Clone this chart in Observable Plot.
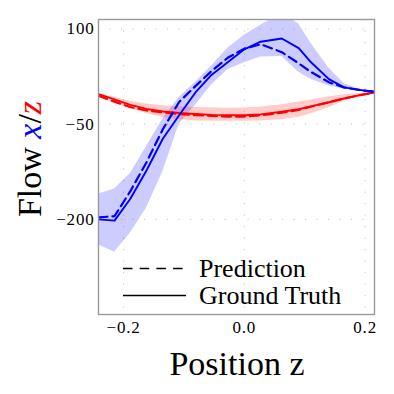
<!DOCTYPE html>
<html><head><meta charset="utf-8">
<script src="https://cdn.jsdelivr.net/npm/d3@7"></script>
<script src="https://cdn.jsdelivr.net/npm/@observablehq/plot@0.6"></script>
<style>body{margin:0;background:#fff}</style>
</head><body><div id="chart"></div>
<script>
// Position z (x axis)
const zPos = [-0.2415, -0.215, -0.189, -0.162, -0.135, -0.108, -0.081, -0.054, -0.027, 0.0, 0.027, 0.062, 0.09, 0.11, 0.14, 0.165, 0.19, 0.2155];
// Flow x (blue)
const blueTruth = [-200, -202, -168, -123, -73, -36, 0, 28, 48, 68, 80, 85, 70, 48, 21, 8, 4, 1];
const bluePred  = [-197, -195, -156, -110, -58, -15, 10, 34, 55, 69, 76, 63.5, 46, 32.5, 16, 8, 4, 1];
const blueLow   = [-240, -252, -222, -182, -125, -50, -20, 12, 36, 47, 56, 56.5, 32, 21, 10, 5, 3, 1];
const blueHigh  = [-160, -152, -128, -85, -42, -8, 16, 42, 70, 90, 106, 125, 108, 78, 38, 14, 5, 1];
// Flow z (red)
const redTruth = [-2.6, -11, -19.5, -26, -30, -32.3, -34, -35.3, -35.8, -36, -34.5, -30.5, -26.5, -22, -15.5, -9.5, -4.5, 0];
const redPred  = [-5.3, -14.5, -23, -28.5, -31.5, -34, -35.8, -37, -38, -38, -36, -32, -27.5, -22.5, -15.5, -9.5, -4.5, 0];
const redLow   = [-4, -15, -26, -33, -39.5, -43, -45, -45.5, -45.5, -45.5, -45, -43, -39, -34, -24, -14, -6, 0];
const redHigh  = [-2, -7.5, -14, -18, -21, -22.5, -23.8, -24.3, -24.7, -24.5, -23, -19.5, -15, -12, -7, -3.5, -1.5, 0];

const xTicks = [-0.2, 0.0, 0.2];
const yTicks = [100, -50, -200];
const legendLabels = ["Prediction", "Ground Truth"];
const xLabel = "Position z";

const rows = zPos.map((z, i) => ({
  z, bT: blueTruth[i], bP: bluePred[i], bLo: blueLow[i], bHi: blueHigh[i],
  rT: redTruth[i], rP: redPred[i], rLo: redLow[i], rHi: redHigh[i]
}));

const FONT = "'Liberation Serif', 'DejaVu Serif', serif";
const grid = {stroke: "#c4c4c4", strokeOpacity: 1, strokeWidth: 1, strokeDasharray: "1.2,10.3"};

const plot = Plot.plot({
  width: 394, height: 394,
  marginLeft: 98, marginRight: 20, marginTop: 19, marginBottom: 80,
  style: {fontFamily: FONT, fontSize: "17px", background: "#fff", color: "#000"},
  x: {domain: [-0.2415, 0.2155]},
  y: {domain: [-350, 115]},
  marks: [
    Plot.gridX(xTicks, grid),
    Plot.gridY(yTicks, grid),
    Plot.areaY(rows, {x: "z", y1: "bLo", y2: "bHi", fill: "#0000ff", fillOpacity: 0.2, clip: true}),
    Plot.areaY(rows, {x: "z", y1: "rLo", y2: "rHi", fill: "#ff0000", fillOpacity: 0.2, clip: true}),
    Plot.line(rows, {x: "z", y: "rT", stroke: "#ff0000", strokeWidth: 1.9, clip: true}),
    Plot.line(rows, {x: "z", y: "rP", stroke: "#ff0000", strokeWidth: 2.2, strokeDasharray: "9,5", clip: true}),
    Plot.line(rows, {x: "z", y: "bT", stroke: "#0000ff", strokeWidth: 1.9, clip: true}),
    Plot.line(rows, {x: "z", y: "bP", stroke: "#0000ff", strokeWidth: 2.2, strokeDasharray: "9,5", clip: true}),
    Plot.axisX(xTicks, {tickSize: 0, tickPadding: 6, tickFormat: d3.format(".1f"), label: null}),
    Plot.axisY(yTicks, {tickSize: 0, tickPadding: 4, tickFormat: d3.format("d"), label: null}),
    Plot.frame({stroke: "#999", strokeWidth: 1.4})
  ]
});

const svg = d3.select(plot);
// serif tick labels, slightly spaced like the reference
svg.selectAll("text")
  .style("font-family", FONT).style("font-size", "17px").style("letter-spacing", "0.8px")
  .attr("fill", "#000");
// x label
svg.append("text").attr("x", 237).attr("y", 375).attr("text-anchor", "middle")
  .style("font-family", FONT).style("font-size", "34px").attr("fill", "#000").text(xLabel);
// y label with coloured parts
const yl = svg.append("text").attr("transform", "translate(41,159) rotate(-90)")
  .attr("text-anchor", "middle").style("font-family", FONT).style("font-size", "34px").attr("fill", "#000");
yl.append("tspan").text("Flow ");
yl.append("tspan").attr("fill", "#0000ff").attr("font-style", "italic").text("x");
yl.append("tspan").text("/");
yl.append("tspan").attr("fill", "#ff0000").attr("font-style", "italic").text("z");
// legend
const lg = svg.append("g").attr("text-anchor", "start");
lg.append("line").attr("x1", 123).attr("x2", 186).attr("y1", 268.5).attr("y2", 268.5)
  .attr("stroke", "#000").attr("stroke-width", 1.6).attr("stroke-dasharray", "9.5,7.2");
lg.append("line").attr("x1", 123).attr("x2", 186).attr("y1", 295.5).attr("y2", 295.5)
  .attr("stroke", "#000").attr("stroke-width", 1.6);
lg.append("text").attr("x", 199).attr("y", 277.3).attr("text-anchor", "start").style("font-family", FONT).style("font-size", "26px").attr("fill", "#000").text(legendLabels[0]);
lg.append("text").attr("x", 199).attr("y", 304.3).attr("text-anchor", "start").style("font-family", FONT).style("font-size", "26px").attr("fill", "#000").text(legendLabels[1]);

document.getElementById("chart").appendChild(plot);
</script>
</body></html>
